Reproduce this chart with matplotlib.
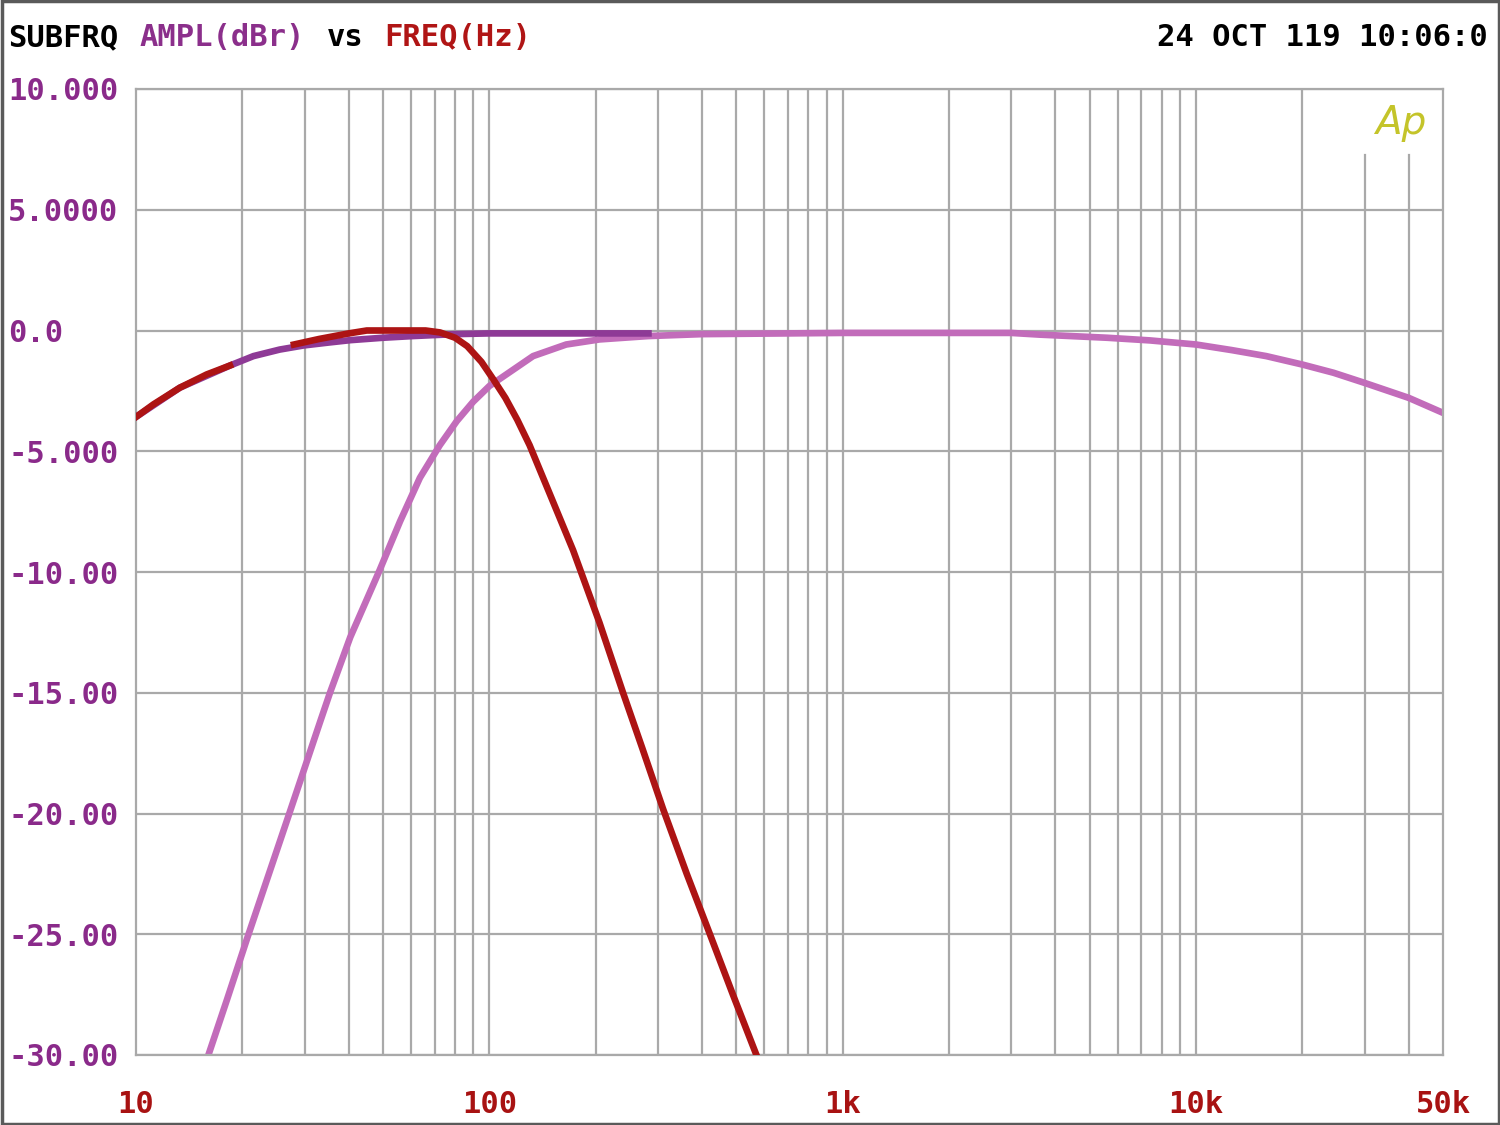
import matplotlib
matplotlib.use('Agg')
import matplotlib.pyplot as plt
from matplotlib.patches import Rectangle
from matplotlib.ticker import NullFormatter

# data (freq in Hz, level in dBr)
lp_low_freq = [10, 11.2, 13.3, 15.85, 18.45]
lp_low_db = [-3.58, -3.06, -2.37, -1.82, -1.45]

lp_freq = [28, 33, 40, 45, 57, 66, 72.5, 80, 86.6, 95, 102.7, 111, 120, 130,
           148.6, 172.6, 205, 239, 271, 310, 362, 421, 489, 570]
lp_db = [-0.58, -0.35, -0.12, 0.0, 0.0, 0.0, -0.08, -0.3, -0.65, -1.3, -2.03,
         -2.79, -3.7, -4.75, -6.8, -9.1, -12.1, -15.0, -17.3, -19.8, -22.5,
         -25.0, -27.5, -30.0]

full_freq = [10, 13.3, 18.45, 21.5, 25.5, 29.8, 35, 40.4, 50, 60.8, 80, 100, 150, 282]
full_db = [-3.58, -2.37, -1.45, -1.06, -0.79, -0.62, -0.5, -0.4, -0.3, -0.23,
           -0.15, -0.12, -0.12, -0.12]

hp_freq = [16.03, 18.1, 20.6, 23.4, 27.3, 33.2, 35.4, 40.4, 49, 55.9, 63.6, 72.4,
           80.9, 90, 100, 133, 165, 205, 282, 400, 700, 1000, 2000, 3000, 3600,
           5600, 7400, 10000, 12600, 15800, 20000, 24500, 30000, 40000, 50000]
hp_db = [-30.0, -27.7, -25.2, -22.8, -19.9, -16.2, -15.0, -12.7, -9.9, -7.9,
         -6.1, -4.75, -3.75, -2.95, -2.3, -1.06, -0.58, -0.37, -0.23, -0.15,
         -0.12, -0.1, -0.1, -0.1, -0.17, -0.3, -0.41, -0.58, -0.81, -1.06, -1.41,
         -1.75, -2.17, -2.79, -3.41]

ytick_vals = [10, 5, 0, -5, -10, -15, -20, -25, -30]
ytick_labels = ['10.000', '5.0000', '0.0', '-5.000', '-10.00', '-15.00',
                '-20.00', '-25.00', '-30.00']
xtick_vals = [10, 100, 1000, 10000, 50000]
xtick_labels = ['10', '100', '1k', '10k', '50k']

RED = '#ad1414'
PURPLE = '#8e3a96'
PINK = '#c26cba'
GRID = '#a9a9a9'
MONO = 'DejaVu Sans Mono'

W, H = 1500, 1125
fig = plt.figure(figsize=(15, 11.25), dpi=100)
fig.patch.set_facecolor('white')
ax = fig.add_axes([136 / W, 1 - 1055 / H, (1443 - 136) / W, (1055 - 89) / H])

ax.set_xscale('log')
ax.set_xlim(10, 50000)
ax.set_ylim(-30, 10)

# grid: horizontal every 5 dB, vertical at 1-9 of each decade
ax.grid(axis='y', color=GRID, linewidth=1.6)
for dec in [10, 100, 1000, 10000]:
    for m in range(1, 10):
        f = dec * m
        if f <= 10 or f >= 50000:
            continue
        top = 0.932 if f in (30000, 40000) else 1.0
        ax.axvline(f, ymax=top, color=GRID, linewidth=1.6, zorder=0.5)
ax.set_axisbelow(True)
for sp in ax.spines.values():
    sp.set_color(GRID)
    sp.set_linewidth(1.6)

lw = 4.8
ax.plot(hp_freq, hp_db, color=PINK, linewidth=lw, zorder=2)
ax.plot(full_freq, full_db, color=PURPLE, linewidth=lw, zorder=3)
ax.plot(lp_low_freq, lp_low_db, color=RED, linewidth=lw, zorder=4)
ax.plot(lp_freq, lp_db, color=RED, linewidth=lw, zorder=4)

ax.set_yticks(ytick_vals, ytick_labels)
ax.set_xticks(xtick_vals, xtick_labels)
ax.xaxis.set_minor_formatter(NullFormatter())
ax.tick_params(axis='both', which='both', length=0)
ax.tick_params(axis='y', pad=92, labelcolor='#8a2a8a', labelsize=22)
ax.tick_params(axis='x', pad=25, labelcolor='#a81212', labelsize=22)
for lab in ax.get_yticklabels():
    lab.set_ha('left')
    lab.set_fontfamily(MONO)
    lab.set_fontweight('bold')
for lab in ax.get_xticklabels():
    lab.set_fontfamily(MONO)
    lab.set_fontweight('bold')

# header line
ty = 1 - 38 / H
kw = dict(fontsize=22, fontfamily=MONO, fontweight='bold', va='center')
fig.text(8 / W, ty, 'SUBFRQ', color='black', **kw)
fig.text(139 / W, ty, 'AMPL(dBr)', color='#8b2f8b', **kw)
fig.text(327 / W, ty, 'vs', color='black', **kw)
fig.text(384 / W, ty, 'FREQ(Hz)', color='#b01515', **kw)
fig.text(1488 / W, ty, '24 OCT 119 10:06:0', color='black', ha='right', **kw)

# Audio Precision logo
ax.text(0.968, 0.965, 'Ap', transform=ax.transAxes, ha='center', va='center',
        fontsize=28, fontstyle='italic', fontweight='light', color='#c4c42a',
        fontfamily='DejaVu Sans')

# outer frame of the screenshot
fig.patches.append(Rectangle((0.001, 0.001), 0.998, 0.998, transform=fig.transFigure,
                             fill=False, edgecolor='#5a5a5a', linewidth=2.5))

plt.savefig('out.png', dpi=100)
plt.close()
